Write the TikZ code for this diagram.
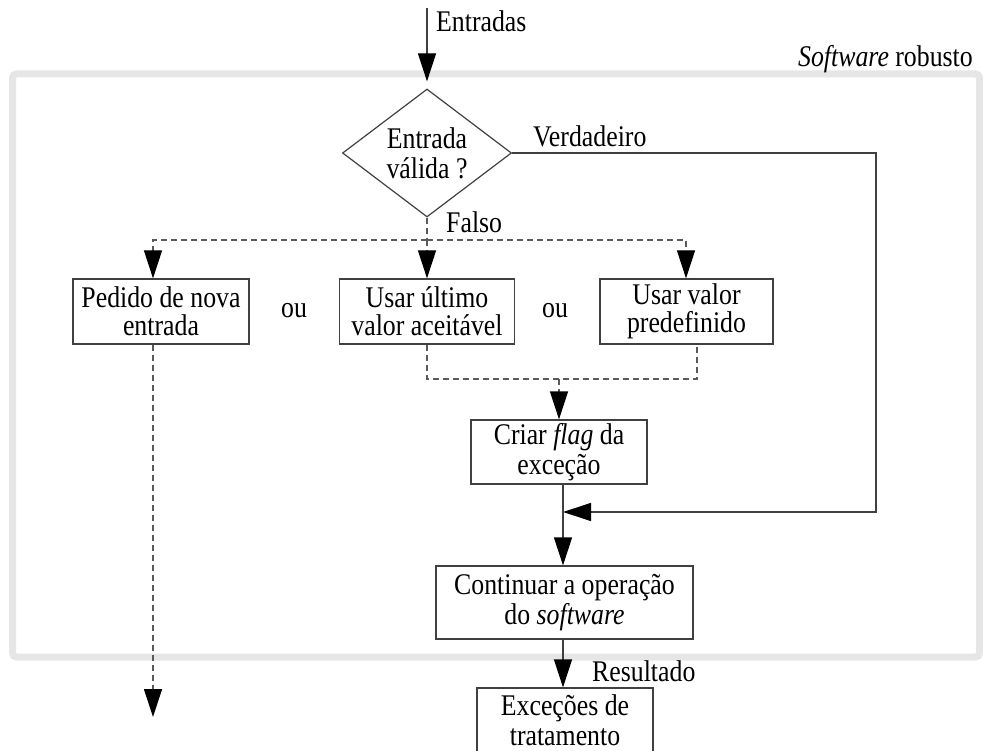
\documentclass[tikz,border=0pt]{standalone}
\usepackage{fontspec}
\setmainfont{Liberation Serif}[FakeStretch=0.86]
\usetikzlibrary{arrows.meta,shapes.geometric}
\definecolor{framegray}{HTML}{E6E6E6}
\definecolor{linegray}{HTML}{404040}
\definecolor{dashgray}{HTML}{5A5A5A}
\begin{document}
\begin{tikzpicture}[x=1pt,y=-1pt,
  font=\fontsize{30}{30}\selectfont,
  box/.style={draw=linegray,line width=1.2pt,align=center,minimum height=65pt,inner sep=2pt},
  tightbox/.style={box,font=\fontsize{30}{28}\selectfont},
  conn/.style={draw=linegray,line width=1.2pt},
  dashconn/.style={draw=dashgray,line width=1.2pt,dash pattern=on 6pt off 4pt},
  tip/.style={-{Triangle[length=28pt,width=18pt,color=black]}},
  lbl/.style={inner sep=0pt,anchor=base west}]
\useasboundingbox (0,0) rectangle (983,751);
% frame
\draw[framegray,line width=7pt,rounded corners=4pt] (12.5,74) rectangle (979.5,657);
\node[inner sep=0pt,anchor=base east] (sr) at (973,66.7) {\textit{Software} robusto};
% nodes
\node[diamond,draw=linegray,line width=1.2pt,inner sep=0pt,aspect=1.32,
      minimum width=169pt,minimum height=128pt,align=center] (dec) at (427,153) {Entrada\\válida ?};
\node[tightbox,minimum width=176pt] (b1) at (161,311.5) {Pedido de nova\\entrada};
\node[tightbox,minimum width=175pt] (b2) at (427,311.5) {Usar último\\valor aceitável};
\node[tightbox,minimum width=173pt] (b3) at (686.5,311.5) {Usar valor\\predefinido};
\node[box,minimum width=176pt,minimum height=64pt] (flag) at (559,452) {Criar \textit{flag} da\\exceção};
\node[box,minimum width=257pt,minimum height=73pt] (cont) at (564.5,602.5) {Continuar a operação\\do \textit{software}};
\node[box,minimum width=176pt] (exc) at (565,720.5) {Exceções de\\tratamento};
\node (ou1) at (294,311) {ou};
\node (ou2) at (555,311) {ou};
% labels
\node[lbl] (lin) at (436,31.7) {Entradas};
\node[lbl] (lv) at (533,146.7) {Verdadeiro};
\node[lbl] (lf) at (446,233) {Falso};
\node[lbl] (lr) at (592,681) {Resultado};
% coordinates
\coordinate (in) at (427,8);
\coordinate (fL) at (153,240);
\coordinate (fM) at (427,240);
\coordinate (fR) at (686,240);
\coordinate (mL) at (427,379);
\coordinate (mM) at (559,379);
\coordinate (mR) at (697,379);
\coordinate (vc) at (876,512);
\coordinate (join) at (563,512);
\coordinate (pend) at (153,717);
% connectors
\draw[conn,tip] (in) -- ([yshift=7pt]dec.north);
\draw[conn,tip] (dec.east) -| (vc) -- (join);
\draw[dashconn] (dec.south) -- (fM);
\draw[dashconn,tip] (fM) -- (fL) -- (fL |- b1.north);
\draw[dashconn,tip] (fM) -- (fM |- b2.north);
\draw[dashconn,tip] (fM) -- (fR) -- (fR |- b3.north);
\draw[dashconn] (b2.south) -- (mL) -- (mR) -- (mR |- b3.south);
\draw[dashconn,tip] (mM) -- (mM |- flag.north);
\draw[dashconn,tip] (fL |- b1.south) -- (pend);
\draw[conn,tip] (join |- flag.south) -- (join |- cont.north);
\draw[conn,tip] (join |- cont.south) -- (join |- exc.north);
\end{tikzpicture}
\end{document}
